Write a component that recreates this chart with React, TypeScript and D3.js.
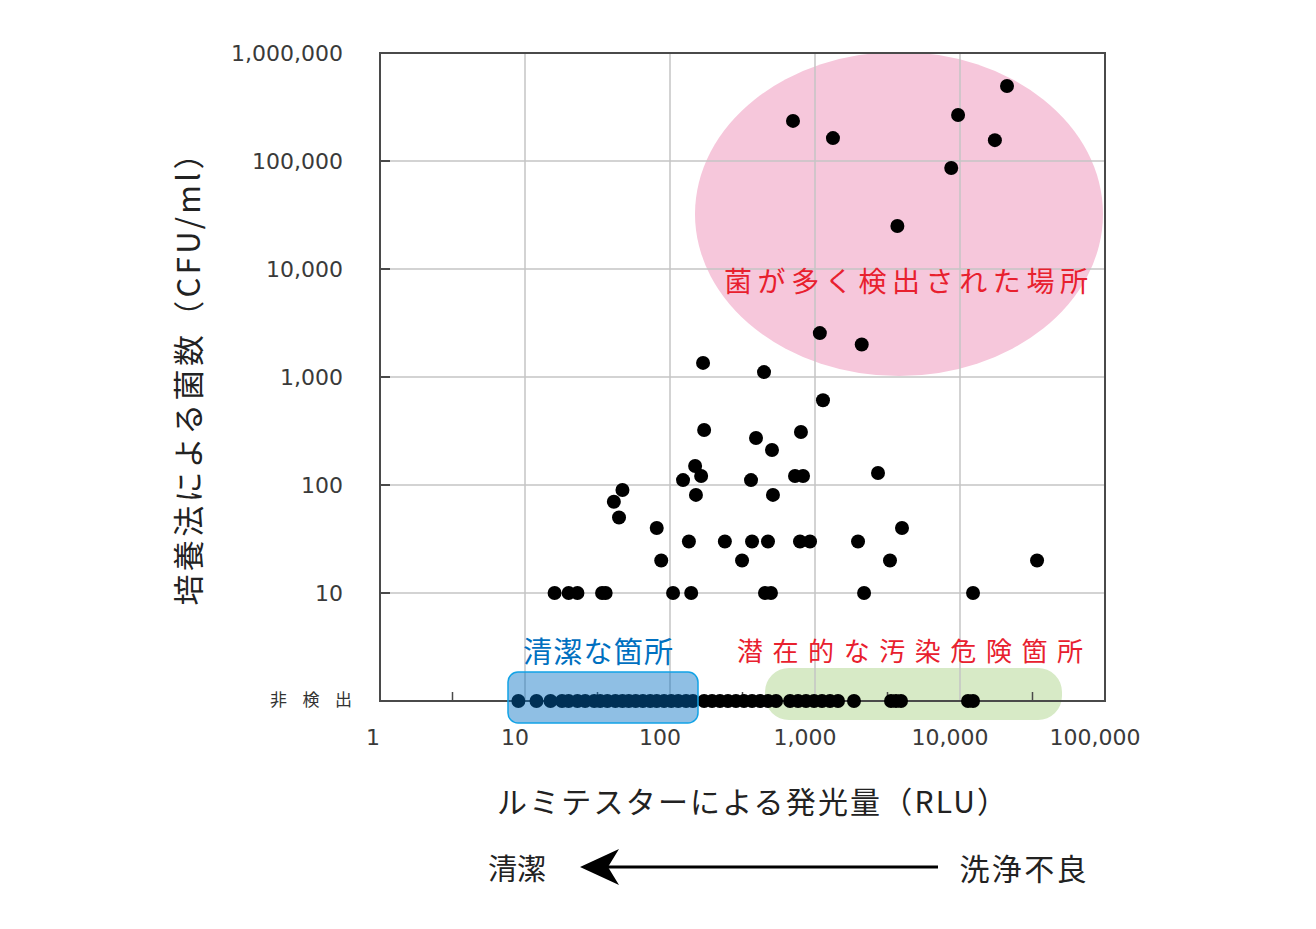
import React from "react";
import * as d3 from "d3";

// RLU (x) and CFU/ml (y) for detected samples
const detectedRLU = [
  705, 1330, 21100, 9700, 17400, 8700, 3700, 1080, 2100,
  169, 445, 1135, 172, 392, 800, 505, 149, 164, 123, 362, 728, 827, 2720,
  47, 41, 151, 513, 44.5, 81, 3980, 135, 239, 368, 474, 788, 924, 1980,
  87, 314, 3290, 34000,
  16, 20, 23, 34, 36, 105, 140, 452, 497, 2180, 12300,
];
const detectedCFU = [
  235000, 163000, 495000, 267000, 156000, 86000, 25000, 2550, 2000,
  1350, 1110, 610, 323, 272, 310, 211, 150, 121, 111, 111, 121, 121, 129,
  90, 70, 81, 81, 50, 40, 40, 30, 30, 30, 30, 30, 30, 30,
  20, 20, 20, 20,
  10, 10, 10, 10, 10, 10, 10, 10, 10, 10, 10,
];
// RLU of samples where bacteria were not detected (plotted on the 非検出 line)
const nonDetectRLU = [
  9, 12, 15, 18, 20, 23, 26, 30, 33, 37, 42, 47, 52, 58, 65, 73, 81, 91,
  102, 114, 129, 144, 172, 195, 221, 251, 285, 324, 368, 418, 474, 539,
  673, 764, 867, 985, 1118, 1269, 1441, 1857, 3343, 3620, 3920, 11360, 12300,
];
const xTicks = [1, 10, 100, 1000, 10000, 100000];
const xTickLabels = ["1", "10", "100", "1,000", "10,000", "100,000"];
const yTicks = [10, 100, 1000, 10000, 100000, 1000000];
const yTickLabels = ["10", "100", "1,000", "10,000", "100,000", "1,000,000"];
const NON_DETECT = 1;

const JP = "'Noto Sans CJK JP', sans-serif";
const NUM = "'DejaVu Sans', sans-serif";

export default function App() {
  const left = 380, right = 1105, top = 53, bottom = 701;
  const x = d3.scaleLog().domain([1, 100000]).range([left, right]);
  const y = d3.scaleLog().domain([1, 1000000]).range([bottom, top]);
  const minor = d3.range(0, 5).map((k) => Math.pow(10, k + 0.5));
  const gridCol = "#c4c4c4";
  const frameCol = "#4a4a4a";
  const points = detectedRLU.map((v, i) => ({ x: v, y: detectedCFU[i] }));

  return (
    <svg
      width={1316}
      height={929}
      style={{ position: "absolute", left: 0, top: 0, background: "#fff" }}
    >
      <rect x={0} y={0} width={1316} height={929} fill="#fff" />
      {/* pink ellipse */}
      <ellipse cx={899} cy={214} rx={204} ry={162} fill="#f6c7db" />
      {/* green pill */}
      <rect x={765} y={668} width={297} height={52} rx={24} ry={24} fill="#d7eac6" />

      {/* gridlines */}
      {yTicks.slice(0, 5).map((t) => (
        <line key={"gy" + t} x1={left} x2={right} y1={y(t)} y2={y(t)} stroke={gridCol} strokeWidth={1.5} />
      ))}
      {xTicks.slice(1, 5).map((t) => (
        <line key={"gx" + t} x1={x(t)} x2={x(t)} y1={top} y2={bottom} stroke={gridCol} strokeWidth={1.5} />
      ))}
      {/* y ticks */}
      {yTicks.slice(0, 5).map((t) => (
        <line key={"ty" + t} x1={left} x2={left + 10} y1={y(t)} y2={y(t)} stroke={frameCol} strokeWidth={2} />
      ))}
      {/* x minor ticks */}
      {minor.map((t) => (
        <line key={"tx" + t} x1={x(t)} x2={x(t)} y1={bottom} y2={bottom - 9} stroke={frameCol} strokeWidth={1.5} />
      ))}
      {/* frame */}
      <rect x={left} y={top} width={right - left} height={bottom - top} fill="none" stroke={frameCol} strokeWidth={2} />

      {/* dots */}
      {points.map((p, i) => (
        <circle key={"d" + i} cx={x(p.x)} cy={y(p.y)} r={7} fill="#000" />
      ))}
      {nonDetectRLU.map((v, i) => (
        <circle key={"n" + i} cx={x(v)} cy={y(NON_DETECT)} r={7} fill="#000" />
      ))}

      {/* blue overlay */}
      <rect x={508} y={672} width={190} height={51} rx={10} ry={10}
        fill="rgb(0,109,193)" fillOpacity={0.44} stroke="#12a3e6" strokeWidth={1.5} />

      {/* tick labels */}
      {yTicks.map((t, i) => (
        <text key={"ly" + t} x={343} y={y(t)} textAnchor="end" dominantBaseline="central"
          fontFamily={NUM} fontSize={22} fill="#3a3a3a">{yTickLabels[i]}</text>
      ))}
      <text x={270} y={698} fontFamily={JP} fontSize={17} fill="#333" dominantBaseline="central"
        textLength={82} lengthAdjust="spacing">非検出</text>
      {xTicks.map((t, i) => (
        <text key={"lx" + t} x={x(t) - (i === 0 ? 7 : 10)} y={737} textAnchor="middle" dominantBaseline="central"
          fontFamily={NUM} fontSize={22} fill="#3a3a3a">{xTickLabels[i]}</text>
      ))}

      {/* annotations */}
      <text x={724} y={280} fontFamily={JP} fontSize={28} fill="#e8202e" dominantBaseline="central"
        textLength={364} lengthAdjust="spacing">菌が多く検出された場所</text>
      <text x={737} y={649} fontFamily={JP} fontSize={26} fill="#e8202e" dominantBaseline="central"
        textLength={346} lengthAdjust="spacing">潜在的な汚染危険箇所</text>
      <text x={523} y={650} fontFamily={JP} fontSize={29} fill="#0070c0" dominantBaseline="central"
        textLength={150} lengthAdjust="spacing">清潔な箇所</text>

      {/* axis titles */}
      <text transform="translate(186,372) rotate(-90)" textAnchor="middle" dominantBaseline="central"
        fontFamily={JP} fontSize={31} fill="#222" textLength={467} lengthAdjust="spacing">
        培養法による菌数（CFU/ml）
      </text>
      <text x={752} y={800} textAnchor="middle" dominantBaseline="central"
        fontFamily={JP} fontSize={30} fill="#222" textLength={510} lengthAdjust="spacing">
        ルミテスターによる発光量（RLU）
      </text>

      {/* arrow */}
      <text x={517} y={867} textAnchor="middle" dominantBaseline="central" fontFamily={JP} fontSize={29} fill="#222">清潔</text>
      <line x1={605} x2={938} y1={867} y2={867} stroke="#000" strokeWidth={3} />
      <path d="M580,867 L619,849 L608,867 L619,885 Z" fill="#000" />
      <text x={1023} y={867} textAnchor="middle" dominantBaseline="central" fontFamily={JP} fontSize={30} fill="#222"
        textLength={127} lengthAdjust="spacing">洗浄不良</text>
    </svg>
  );
}
